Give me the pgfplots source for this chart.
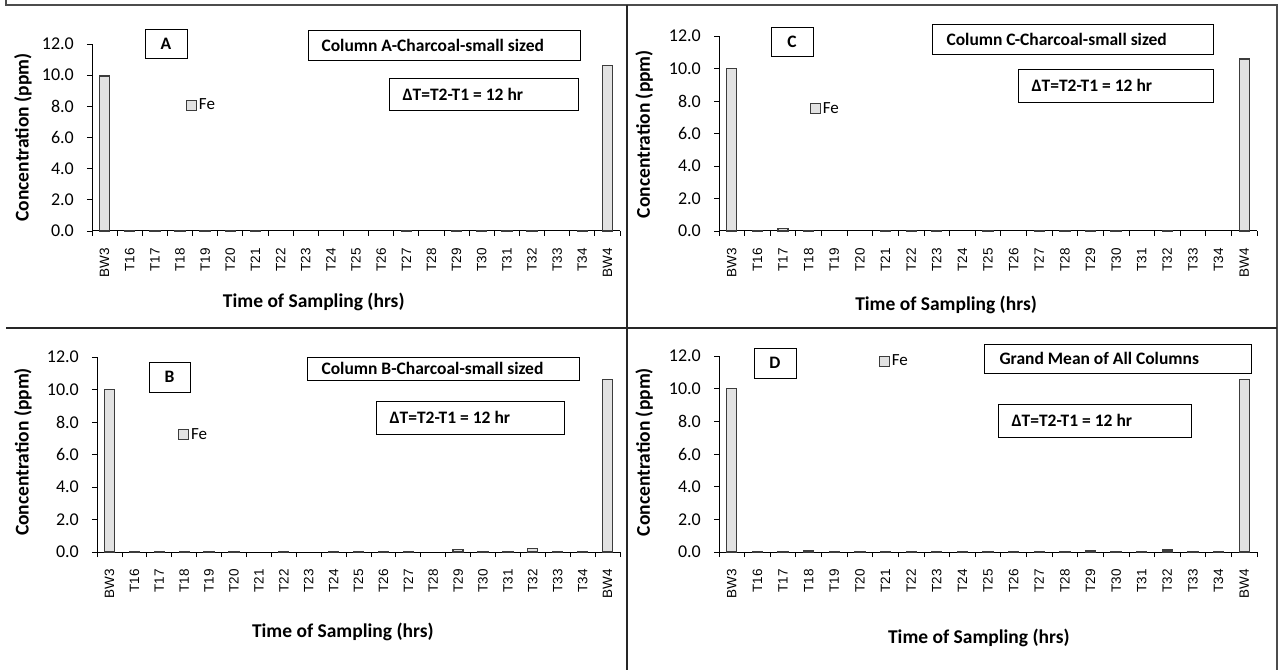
\documentclass[border=0pt]{standalone}
\usepackage{pgfplots}
\usepackage{pgfplotstable}
\pgfplotsset{compat=1.18}
\usepackage{fontspec}
\setmainfont{Carlito}
\newfontfamily\arialfont{Liberation Sans}

\pgfplotstableread{
x y
0 9.95
1 0.02
2 0.02
3 0.02
4 0.02
5 0.02
6 0.02
12 0.02
14 0.02
15 0.02
16 0.02
17 0.05
19 0.02
20 10.62
}\dataA
\pgfplotstableread{
x y
0 10.0
1 0.02
2 0.15
3 0.02
6 0.05
7 0.02
8 0.02
10 0.02
12 0.02
13 0.02
14 0.05
15 0.02
17 0.05
20 10.58
}\dataC
\pgfplotstableread{
x y
0 10.0
1 0.02
2 0.02
3 0.05
4 0.02
5 0.05
7 0.05
9 0.02
10 0.02
11 0.02
12 0.02
14 0.15
15 0.02
16 0.02
17 0.20
18 0.02
19 0.02
20 10.60
}\dataB
\pgfplotstableread{
x y
0 10.0
1 0.02
2 0.02
3 0.07
4 0.02
5 0.02
6 0.02
7 0.02
8 0.02
9 0.02
10 0.02
11 0.02
12 0.02
13 0.02
14 0.07
15 0.02
16 0.02
17 0.12
18 0.02
19 0.02
20 10.58
}\dataD

\definecolor{barfill}{RGB}{226,226,226}
\definecolor{baredge}{RGB}{60,60,60}
\newcommand{\boxfont}{\bfseries\fontsize{17.5bp}{19bp}\selectfont}

\pgfplotsset{
  panel/.style={
    scale only axis, ybar, bar width=10bp,
    xmin=-0.5, xmax=20.5, ymin=0, ymax=12,
    axis lines*=left, clip=false,
    axis line style={black, line width=1bp},
    ytick={0,2,...,12},
    xtick={-0.5,0.5,...,20.5}, xticklabels={},
    extra x ticks={0,...,20},
    extra x tick labels={BW3,T16,T17,T18,T19,T20,T21,T22,T23,T24,T25,T26,T27,T28,T29,T30,T31,T32,T33,T34,BW4},
    extra x tick style={major tick length=0pt, xticklabel style={rotate=90, anchor=east, inner sep=0pt, font=\arialfont\fontsize{13.5bp}{15bp}\selectfont}},
    xticklabel shift=17bp,
    tick align=outside, major tick length=5bp,
    tick style={black, line width=0.8bp},
    yticklabel style={font=\fontsize{18bp}{20bp}\selectfont, inner sep=0pt},
    yticklabel shift=13bp,
    /pgf/number format/.cd, fixed, fixed zerofill, precision=1, assume math mode=true, /pgfplots/.cd,
    xlabel style={font=\bfseries\fontsize{19.5bp}{21bp}\selectfont, anchor=center},
    ylabel style={font=\bfseries\fontsize{19.5bp}{21bp}\selectfont, anchor=center},
    legend style={draw=none, fill=none, font=\fontsize{17bp}{19bp}\selectfont, inner sep=0pt, anchor=west, cells={anchor=west}},
    legend image code/.code={\draw[#1, line width=0.8bp] (0bp,-5bp) rectangle (10bp,5bp);},
    xlabel={Time of Sampling (hrs)},
    ylabel={Concentration (ppm)},
  },
  barstyle/.style={fill=barfill, draw=baredge, line width=1.3bp},
}

\begin{document}
\begin{tikzpicture}
\useasboundingbox (0,0) rectangle (1279bp,670bp);
% frame
\draw[line width=1.5bp, black!70] (6bp,670bp) -- (6bp,665bp) -- (1277bp,665bp) -- (1277bp,0bp);
\draw[line width=1.2bp, black!85] (6bp,342bp) -- (1277bp,342bp);
\draw[line width=1.5bp, black!85] (627bp,665bp) -- (627bp,0bp);

% Panel A
\begin{axis}[panel, at={(92bp,439bp)}, anchor=south west, width=528bp, height=187bp,
  xlabel style={at={(axis description cs:0.42,-0.38)}},
  ylabel style={at={(axis description cs:-0.131,0.5)}},
  legend style={at={(rel axis cs:0.178,0.674)}}]
\addplot[barstyle] table[x=x,y=y]{\dataA};
\addlegendentry{Fe}
\end{axis}
\draw[line width=0.8bp] (145bp,612bp) rectangle (187bp,641bp);
\node[font=\boxfont] at (166bp,626.5bp) {A};
\draw[line width=0.8bp] (308bp,610bp) rectangle (580bp,640bp);
\node[anchor=west, font=\boxfont] at (318bp,625bp) {Column A-Charcoal-small sized};
\draw[line width=0.8bp] (389bp,560bp) rectangle (578bp,592bp);
\node[anchor=west, font=\boxfont] at (399bp,576bp) {ΔT=T2-T1 = 12 hr};

% Panel C
\begin{axis}[panel, at={(719bp,439bp)}, anchor=south west, width=538bp, height=195bp,
  xlabel style={at={(axis description cs:0.422,-0.38)}},
  ylabel style={at={(axis description cs:-0.139,0.497)}},
  legend style={at={(rel axis cs:0.169,0.628)}}]
\addplot[barstyle] table[x=x,y=y]{\dataC};
\addlegendentry{Fe}
\end{axis}
\draw[line width=0.8bp] (771bp,614bp) rectangle (813bp,643bp);
\node[font=\boxfont] at (792bp,628.5bp) {C};
\draw[line width=0.8bp] (932bp,616bp) rectangle (1213bp,646bp);
\node[anchor=west, font=\boxfont] at (943bp,631bp) {Column C-Charcoal-small sized};
\draw[line width=0.8bp] (1018bp,568bp) rectangle (1213bp,601bp);
\node[anchor=west, font=\boxfont] at (1028bp,584.5bp) {ΔT=T2-T1 = 12 hr};

% Panel B
\begin{axis}[panel, at={(97bp,118bp)}, anchor=south west, width=523bp, height=195bp,
  xlabel style={at={(axis description cs:0.47,-0.41)}},
  ylabel style={at={(axis description cs:-0.1415,0.513)}},
  legend style={at={(rel axis cs:0.155,0.603)}}]
\addplot[barstyle] table[x=x,y=y]{\dataB};
\addlegendentry{Fe}
\end{axis}
\draw[line width=0.8bp] (149bp,278bp) rectangle (190bp,308bp);
\node[font=\boxfont] at (169.5bp,293bp) {B};
\draw[line width=0.8bp] (307bp,290bp) rectangle (579bp,313bp);
\node[anchor=west, font=\boxfont] at (318bp,301.5bp) {Column B-Charcoal-small sized};
\draw[line width=0.8bp] (376bp,236bp) rectangle (564bp,269bp);
\node[anchor=west, font=\boxfont] at (386bp,252.5bp) {ΔT=T2-T1 = 12 hr};

% Panel D
\begin{axis}[panel, at={(719bp,118bp)}, anchor=south west, width=538bp, height=196bp,
  xlabel style={at={(axis description cs:0.483,-0.44)}},
  ylabel style={at={(axis description cs:-0.139,0.51)}},
  legend style={at={(rel axis cs:0.297,0.974)}}]
\addplot[barstyle] table[x=x,y=y]{\dataD};
\addlegendentry{Fe}
\end{axis}
\draw[line width=0.8bp] (754bp,292bp) rectangle (796bp,322bp);
\node[font=\boxfont] at (775bp,307bp) {D};
\draw[line width=0.8bp] (984bp,297bp) rectangle (1251bp,326bp);
\node[anchor=west, font=\boxfont] at (996bp,311.5bp) {Grand Mean of All Columns};
\draw[line width=0.8bp] (998bp,233bp) rectangle (1191bp,266bp);
\node[anchor=west, font=\boxfont] at (1008bp,249.5bp) {ΔT=T2-T1 = 12 hr};
\end{tikzpicture}
\end{document}
